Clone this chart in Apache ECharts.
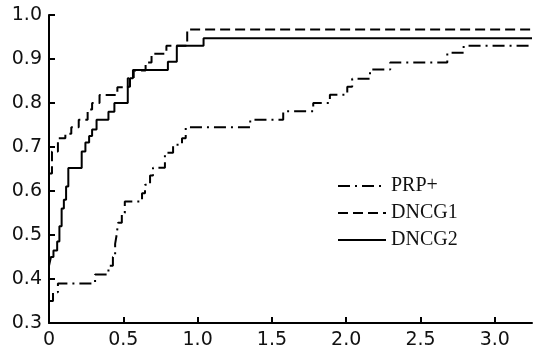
<!DOCTYPE html>
<html>
<head>
<meta charset="utf-8">
<script src="https://cdn.jsdelivr.net/npm/echarts@6/dist/echarts.min.js"></script>
<style>
  html, body { margin: 0; padding: 0; background: #fff; }
  #chart { width: 534px; height: 356px; }
</style>
</head>
<body>
<div id="chart"></div>
<script>
// cumulative step curves: x where each step starts, y after the step
const prpX = [0, 0.027, 0.06, 0.31, 0.40, 0.43, 0.445, 0.455, 0.465, 0.49, 0.51, 0.626, 0.646, 0.68, 0.70, 0.78, 0.835, 0.895, 0.92, 1.354, 1.576, 1.778, 1.89, 2.007, 2.04, 2.16, 2.296, 2.68, 2.79, 3.25];
const prpY = [0.35, 0.37, 0.39, 0.41, 0.43, 0.45, 0.48, 0.50, 0.528, 0.55, 0.576, 0.595, 0.614, 0.635, 0.653, 0.687, 0.705, 0.72, 0.745, 0.762, 0.781, 0.80, 0.819, 0.837, 0.855, 0.876, 0.892, 0.914, 0.93, 0.93];

const dncg1X = [0, 0.02, 0.06, 0.11, 0.15, 0.20, 0.26, 0.29, 0.34, 0.46, 0.53, 0.57, 0.65, 0.69, 0.79, 0.93, 3.25];
const dncg1Y = [0.64, 0.69, 0.72, 0.73, 0.745, 0.762, 0.785, 0.80, 0.818, 0.836, 0.856, 0.874, 0.892, 0.912, 0.93, 0.967, 0.967];

const dncg2X = [0, 0.013, 0.03, 0.055, 0.07, 0.085, 0.10, 0.115, 0.13, 0.22, 0.245, 0.27, 0.29, 0.32, 0.40, 0.44, 0.53, 0.545, 0.565, 0.80, 0.86, 1.04, 3.25];
const dncg2Y = [0.43, 0.45, 0.465, 0.485, 0.52, 0.56, 0.58, 0.61, 0.652, 0.69, 0.71, 0.725, 0.74, 0.762, 0.78, 0.80, 0.837, 0.856, 0.875, 0.894, 0.93, 0.947, 0.947];

const xTicks = [0, 0.5, 1.0, 1.5, 2.0, 2.5, 3.0];
const yTicks = [0.3, 0.4, 0.5, 0.6, 0.7, 0.8, 0.9, 1.0];

const pairs = (xs, ys) => xs.map((x, i) => [x, ys[i]]);

const chart = echarts.init(document.getElementById('chart'));

const axisFont = {
  fontFamily: 'DejaVu Sans',
  fontSize: 19,
  color: '#111',
};

const lineSeries = (name, xs, ys, type) => ({
  name: name,
  type: 'line',
  step: 'end',
  symbol: 'none',
  showSymbol: false,
  data: pairs(xs, ys),
  lineStyle: { color: '#000', width: 2, type: type },
  itemStyle: { color: '#000' },
});

chart.setOption({
  animation: false,
  backgroundColor: '#fff',
  grid: { left: 49, right: 2, top: 15, bottom: 33 },
  xAxis: {
    type: 'value',
    min: 0,
    max: 3.25,
    axisLine: { lineStyle: { color: '#000', width: 2 } },
    axisTick: { inside: true, length: 6, customValues: xTicks, lineStyle: { color: '#000', width: 2 } },
    axisLabel: {
      customValues: xTicks,
      margin: 8,
      formatter: (v) => (v === 0 ? '0' : v.toFixed(1)),
      ...axisFont,
    },
    splitLine: { show: false },
  },
  yAxis: {
    type: 'value',
    min: 0.3,
    max: 1.0,
    axisLine: { show: true, lineStyle: { color: '#000', width: 2 } },
    axisTick: { show: true, inside: true, length: 6, customValues: yTicks, lineStyle: { color: '#000', width: 2 } },
    axisLabel: {
      customValues: yTicks,
      margin: 7,
      formatter: (v) => v.toFixed(1),
      ...axisFont,
    },
    splitLine: { show: false },
  },
  legend: {
    orient: 'vertical',
    left: 337,
    top: 176,
    padding: 0,
    itemWidth: 48,
    itemHeight: 14,
    itemGap: 7,
    data: ['PRP+', 'DNCG1', 'DNCG2'],
    itemStyle: { opacity: 0 },
    textStyle: {
      fontFamily: 'Liberation Serif',
      fontSize: 20,
      lineHeight: 20,
      color: '#111',
    },
  },
  series: [
    lineSeries('PRP+', prpX, prpY, [12, 5, 2, 5]),
    lineSeries('DNCG1', dncg1X, dncg1Y, [10, 5]),
    lineSeries('DNCG2', dncg2X, dncg2Y, 'solid'),
  ],
});

window.addEventListener('resize', () => chart.resize());
</script>
</body>
</html>
